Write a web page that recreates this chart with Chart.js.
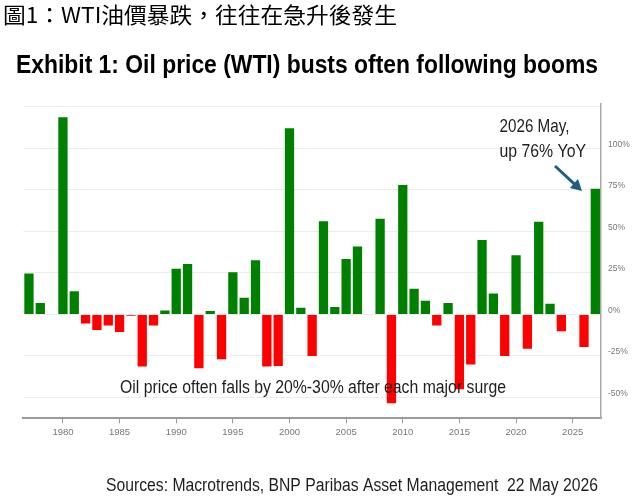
<!DOCTYPE html>
<html>
<head>
<meta charset="utf-8">
<script src="https://cdn.jsdelivr.net/npm/chart.js@4.4.1/dist/chart.umd.min.js"></script>
<style>
    html, body { margin: 0; padding: 0; background: #fff; }
    #wrap { width: 642px; height: 501px; position: relative; }
</style>
</head>
<body>
<div id="wrap"><canvas id="oilChart" width="642" height="501"></canvas></div>
<script>
// WTI yearly change, %
const years = [
    '1977', '1978', '1979', '1980', '1981', '1982', '1983', '1984', '1985', '1986',
    '1987', '1988', '1989', '1990', '1991', '1992', '1993', '1994', '1995', '1996',
    '1997', '1998', '1999', '2000', '2001', '2002', '2003', '2004', '2005', '2006',
    '2007', '2008', '2009', '2010', '2011', '2012', '2013', '2014', '2015', '2016',
    '2017', '2018', '2019', '2020', '2021', '2022', '2023', '2024', '2025', '2026',
    '2027'
];
const yoyChange = [
    24.6, 6.8, null, 118.6, 14, -5.4, -9.4, -6.6, -10.6, -0.8,
    -31.4, -6.6, 2.4, 27.4, 30.4, -32.4, 2, -27, 25.4, 10,
    32.6, -31.4, -31, 112, 4, -25, 56, 4.4, 33.4, 40.8,
    null, 57.6, -53.4, 77.8, 15.4, 8.2, -6.6, 6.8, -45, -30.2,
    44.8, 12.6, -25, 35.6, -20.6, 55.8, 6.4, -10.2, null, -19.6,
    75.6
];
const yTicks = [-50, -25, 0, 25, 50, 75, 100, 125];
const xTickEvery = 5;

const pageTitle = '圖1：WTI油價暴跌，往往在急升後發生';
const chartTitle = 'Exhibit 1: Oil price (WTI) busts often following booms';
const calloutLines = ['2026 May,', 'up 76% YoY'];
const surgeNote = 'Oil price often falls by 20%-30% after each major surge';
const sourceNote = 'Sources: Macrotrends, BNP Paribas Asset Management  22 May 2026';

const GREEN = '#008000';
const RED = '#ff0000';

// draw text squeezed/stretched to a given width
function drawFit(ctx, text, x, y, width, font, color) {
    ctx.save();
    ctx.font = font;
    const w = ctx.measureText(text).width;
    ctx.translate(x, y);
    ctx.scale(width / w, 1);
    ctx.fillStyle = color;
    ctx.textAlign = 'left';
    ctx.textBaseline = 'alphabetic';
    ctx.fillText(text, 0, 0);
    ctx.restore();
}

const textLayer = {
    id: 'textLayer',
    afterDraw(chart) {
        const ctx = chart.ctx;
        drawFit(ctx, pageTitle, 3, 22.5, 394, '22px "Noto Sans CJK TC"', '#000');
        drawFit(ctx, chartTitle, 16, 72.7, 582, 'bold 25.5px "Liberation Sans", Arial', '#000');
        drawFit(ctx, calloutLines[0], 499.5, 131.7, 70, '18.5px "Liberation Sans", Arial', '#1e1e1e');
        drawFit(ctx, calloutLines[1], 499.5, 156.5, 86.5, '18.5px "Liberation Sans", Arial', '#1e1e1e');
        drawFit(ctx, surgeNote, 120, 393.3, 386, '17.5px "Liberation Sans", Arial', '#1e1e1e');
        drawFit(ctx, sourceNote, 106, 491, 492, '18px "Liberation Sans", Arial', '#1e1e1e');

        // arrow to the latest bar
        const x0 = 555, y0 = 166, x1 = 582, y1 = 191;
        const ang = Math.atan2(y1 - y0, x1 - x0);
        ctx.save();
        ctx.strokeStyle = '#1f5f7d';
        ctx.fillStyle = '#1f5f7d';
        ctx.lineWidth = 3;
        ctx.beginPath();
        ctx.moveTo(x0, y0);
        ctx.lineTo(x1 - 8 * Math.cos(ang), y1 - 8 * Math.sin(ang));
        ctx.stroke();
        ctx.beginPath();
        ctx.moveTo(x1, y1);
        ctx.lineTo(x1 - 11 * Math.cos(ang) + 6 * Math.sin(ang), y1 - 11 * Math.sin(ang) - 6 * Math.cos(ang));
        ctx.lineTo(x1 - 11 * Math.cos(ang) - 6 * Math.sin(ang), y1 - 11 * Math.sin(ang) + 6 * Math.cos(ang));
        ctx.closePath();
        ctx.fill();
        ctx.restore();
    }
};

const ctx = document.getElementById('oilChart');
new Chart(ctx, {
    type: 'bar',
    data: {
        labels: years,
        datasets: [{
            data: yoyChange,
            backgroundColor: yoyChange.map(v => (v !== null && v < 0) ? RED : GREEN),
            barPercentage: 0.82,
            categoryPercentage: 1
        }]
    },
    options: {
        responsive: false,
        animation: false,
        layout: {
            padding: { left: 23.3, top: 103.3, right: 0, bottom: 62.7 }
        },
        plugins: {
            legend: { display: false },
            tooltip: { enabled: false }
        },
        scales: {
            x: {
                afterFit(scale) { scale.height = 20; },
                afterBuildTicks(scale) {
                    scale.ticks = scale.ticks.filter(t => Number(years[t.value]) % xTickEvery === 0);
                },
                border: { color: '#9a9a9a', width: 2 },
                grid: {
                    offset: false,
                    drawOnChartArea: false,
                    drawTicks: true,
                    tickLength: 5,
                    color: '#9a9a9a'
                },
                ticks: {
                    autoSkip: false,
                    maxRotation: 0,
                    padding: 3,
                    color: '#777',
                    font: { family: '"Liberation Sans", Arial', size: 9.5 }
                }
            },
            y: {
                position: 'right',
                min: -62.5,
                max: 127,
                afterFit(scale) { scale.width = 41; },
                afterBuildTicks(scale) {
                    scale.ticks = yTicks.map(v => ({ value: v }));
                },
                border: { color: '#a8a8a8', width: 1.5 },
                grid: {
                    color: '#ececec',
                    drawTicks: false
                },
                ticks: {
                    padding: 7,
                    labelOffset: -4,
                    color: '#777',
                    font: { family: '"Liberation Sans", Arial', size: 8.5 },
                    callback: v => v > 100 ? '' : v + '%'
                }
            }
        }
    },
    plugins: [textLayer]
});
</script>
</body>
</html>
